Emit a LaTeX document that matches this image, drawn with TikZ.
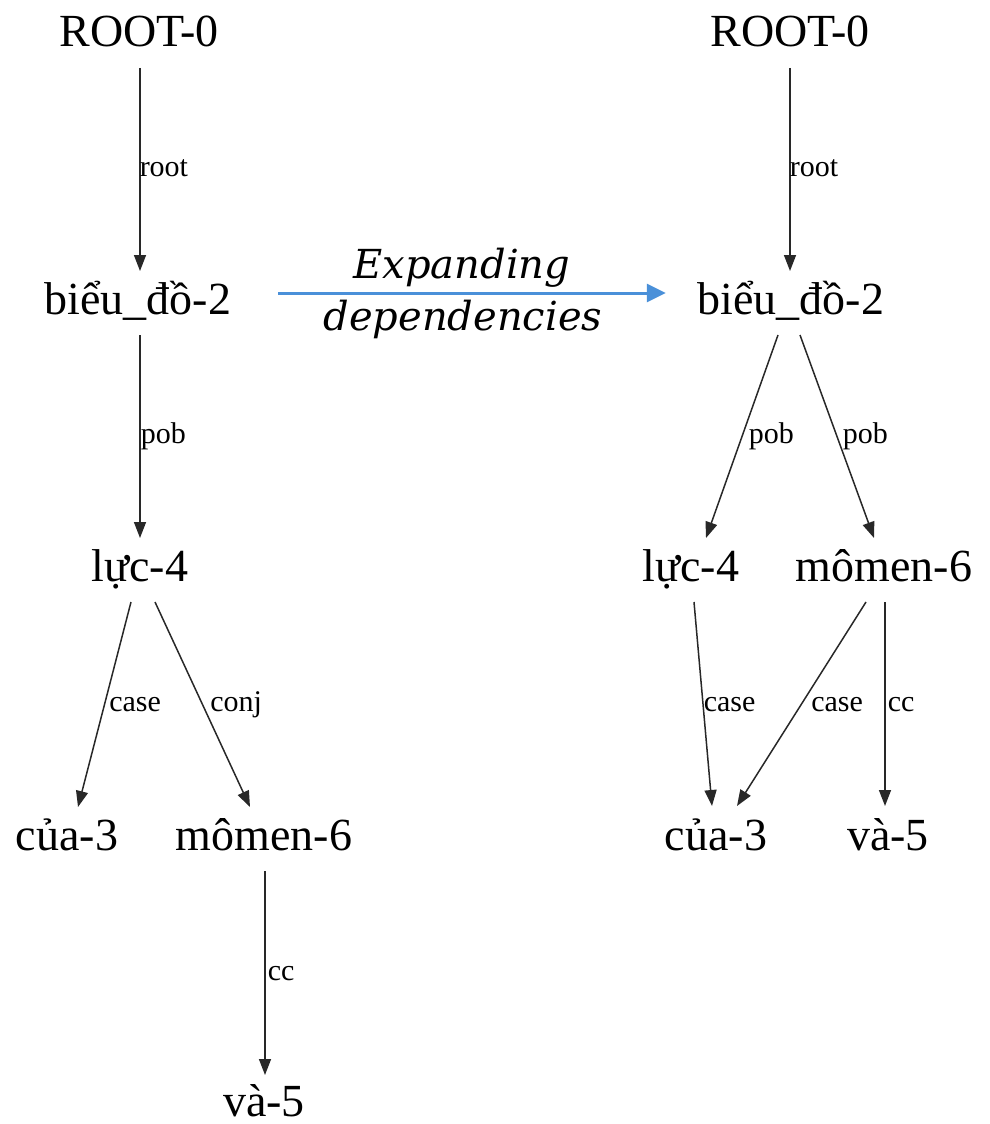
\documentclass[tikz,border=0pt]{standalone}
\usepackage{fontspec}
\setmainfont{Liberation Serif}
\newfontfamily\expfont{DejaVu Serif}
\usetikzlibrary{arrows.meta,calc}
\definecolor{expblue}{RGB}{74,144,217}
\definecolor{edgegray}{RGB}{40,40,40}
\begin{document}
\begin{tikzpicture}[x=1pt,y=-1pt,
  word/.style={inner sep=0pt,outer sep=0pt,anchor=base,font=\fontsize{46}{50}\selectfont},
  dep/.style={draw=edgegray,line width=1.5pt,-{Triangle[length=16pt,width=12pt]}},
  lab/.style={inner sep=0pt,anchor=base west,yshift=-7pt,font=\fontsize{30}{32}\selectfont},
  expand/.style={draw=expblue,line width=3pt,-{Triangle[length=19pt,width=18pt]}},
  exptext/.style={inner sep=0pt,anchor=base,font=\expfont\itshape\fontsize{40}{44}\selectfont}]
\useasboundingbox (0,0) rectangle (989,1124);
% left tree
\node[word] (root1) at (139,47) {ROOT-0};
\node[word] (bieu1) at (138,314) {biểu\_đồ-2};
\node[word] (luc1) at (140,581) {lực-4};
\node[word] (cua1) at (67,850) {của-3};
\node[word] (momen1) at (264,850) {mômen-6};
\node[word] (va1) at (264,1116) {và-5};
% right tree
\node[word] (root2) at (790,47) {ROOT-0};
\node[word] (bieu2) at (791,314) {biểu\_đồ-2};
\node[word] (luc2) at (691,581) {lực-4};
\node[word] (momen2) at (884,581) {mômen-6};
\node[word] (cua2) at (716,850) {của-3};
\node[word] (va2) at (888,850) {và-5};
% left edges
\draw[dep] ($(root1.base)+(1,21)$) -- node[lab,xshift=-1pt] {root} ($(bieu1.base)+(2,-43)$);
\draw[dep] ($(bieu1.base)+(2,21)$) -- node[lab,xshift=0pt] {pob} ($(luc1.base)+(0,-43)$);
\draw[dep] ($(luc1.base)+(-9,21)$) -- node[lab,xshift=4pt] {case} ($(cua1.base)+(11,-43)$);
\draw[dep] ($(luc1.base)+(15,21)$) -- node[lab,xshift=7pt] {conj} ($(momen1.base)+(-14,-43)$);
\draw[dep] ($(momen1.base)+(1,21)$) -- node[lab,xshift=2pt] {cc} ($(va1.base)+(1,-41)$);
% right edges
\draw[dep] ($(root2.base)+(0,21)$) -- node[lab,xshift=-1pt] {root} ($(bieu2.base)+(-1,-43)$);
\draw[dep] ($(bieu2.base)+(-13,21)$) -- node[lab,xshift=6pt] {pob} ($(luc2.base)+(15,-43)$);
\draw[dep] ($(bieu2.base)+(9,21)$) -- node[lab,xshift=5pt] {pob} ($(momen2.base)+(-10,-43)$);
\draw[dep] ($(luc2.base)+(3,21)$) -- node[lab,xshift=0pt] {case} ($(cua2.base)+(-4,-44)$);
\draw[dep] ($(momen2.base)+(-18,21)$) -- node[lab,xshift=9pt] {case} ($(cua2.base)+(21,-44)$);
\draw[dep] ($(momen2.base)+(1,21)$) -- node[lab,xshift=2pt] {cc} ($(va2.base)+(-3,-44)$);
% expansion arrow
\draw[expand] ($(bieu1.base east)+(47,-21)$) -- ($(bieu2.base west)+(-32,-21)$);
\node[exptext] (exp1) at (462,278) {Expanding};
\node[exptext] (exp2) at (463,330) {dependencies};
\end{tikzpicture}
\end{document}
